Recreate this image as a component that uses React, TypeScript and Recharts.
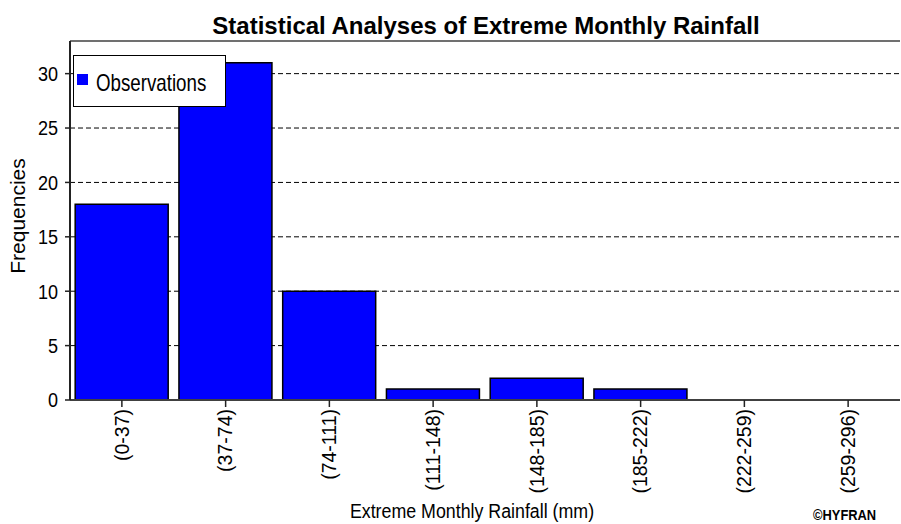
import React from 'react';
import { BarChart, Bar, XAxis, YAxis, CartesianGrid, Legend, ReferenceLine } from 'recharts';

// Rainfall classes (mm) and observed frequencies
const categories = ['(0-37)', '(37-74)', '(74-111)', '(111-148)', '(148-185)', '(185-222)', '(222-259)', '(259-296)'];
const frequencies = [18, 31, 10, 1, 2, 1, 0, 0];
const yTicks = [0, 5, 10, 15, 20, 25, 30];
const yMax = 33;

const FONT = "'Liberation Sans', Arial, sans-serif";

const chartData = categories.map((range, i) => ({ range, observations: frequencies[i] }));

// Rotated category labels, reading bottom to top
const XTick = (props: any) => {
  const { x, y, payload } = props;
  return (
    <g transform={`translate(${x},${y}) rotate(-90)`}>
      <text textAnchor="end" dy="0.35em" fontSize={19.5} fontFamily={FONT} fill="#000">
        {payload.value}
      </text>
    </g>
  );
};

const YTick = (props: any) => {
  const { x, y, payload } = props;
  return (
    <g transform={`translate(${x},${y}) scale(0.86,1)`}>
      <text textAnchor="end" dy="0.35em" fontSize={21} fontFamily={FONT} fill="#000">
        {payload.value}
      </text>
    </g>
  );
};

const LegendBox = () => (
  <div
    style={{
      position: 'relative',
      width: 153,
      height: 52,
      boxSizing: 'border-box',
      border: '1.5px solid #000',
      background: '#fff',
      fontFamily: FONT,
    }}
  >
    <div style={{ position: 'absolute', left: 3, top: 18, width: 11, height: 11, background: '#0000FF' }} />
    <span
      style={{
        position: 'absolute',
        left: 22,
        top: 15,
        fontSize: 24,
        lineHeight: 1,
        whiteSpace: 'nowrap',
        transform: 'scaleX(0.78)',
        transformOrigin: 'left center',
        color: '#000',
      }}
    >
      Observations
    </span>
  </div>
);

export default function App() {
  return (
    <div style={{ position: 'absolute', left: 0, top: 0, width: 901, height: 524, background: '#fff' }}>
      <BarChart
        width={901}
        height={524}
        data={chartData}
        margin={{ top: 41, right: 1, bottom: 0, left: 0 }}
        barCategoryGap="5%"
      >
        <CartesianGrid vertical={false} stroke="#000" strokeDasharray="5 3" horizontalValues={yTicks.slice(1)} />
        <XAxis
          dataKey="range"
          height={124}
          interval={0}
          tickSize={7}
          tickMargin={2}
          tick={XTick}
          axisLine={{ stroke: '#404040', strokeWidth: 2 }}
          tickLine={{ stroke: '#222', strokeWidth: 1.5 }}
        />
        <YAxis
          width={70}
          domain={[0, yMax]}
          ticks={yTicks}
          tickSize={5}
          tickMargin={7}
          tick={YTick}
          axisLine={{ stroke: '#222', strokeWidth: 2 }}
          tickLine={{ stroke: '#222', strokeWidth: 1.5 }}
        />
        <YAxis
          yAxisId="right"
          orientation="right"
          width={0}
          domain={[0, yMax]}
          tick={false}
          tickLine={false}
          axisLine={{ stroke: '#404040', strokeWidth: 1.5 }}
        />
        <ReferenceLine y={yMax} stroke="#404040" strokeWidth={1.5} />
        <Bar
          dataKey="observations"
          name="Observations"
          fill="#0000FF"
          stroke="#000"
          strokeWidth={1.5}
          isAnimationActive={false}
        />
        <Legend
          layout="horizontal"
          verticalAlign="middle"
          align="center"
          content={() => <LegendBox />}
          wrapperStyle={{ left: 73, top: 55, width: 153, height: 52 }}
        />
      </BarChart>
      <svg
        width={901}
        height={524}
        style={{ position: 'absolute', left: 0, top: 0, pointerEvents: 'none' }}
      >
        <text x={486} y={34} textAnchor="middle" fontSize={24} fontWeight="bold" fontFamily={FONT} fill="#000">
          Statistical Analyses of Extreme Monthly Rainfall
        </text>
        <text transform="translate(25,216) rotate(-90)" textAnchor="middle" fontSize={21} fontFamily={FONT} fill="#000">
          Frequencies
        </text>
        <g transform="translate(472,518) scale(0.89,1)">
          <text textAnchor="middle" fontSize={20} fontFamily={FONT} fill="#000">
            Extreme Monthly Rainfall (mm)
          </text>
        </g>
        <g transform="translate(813,520) scale(0.86,1)">
          <text fontSize={15} fontWeight="bold" fontFamily={FONT} fill="#000">
            ©HYFRAN
          </text>
        </g>
      </svg>
    </div>
  );
}
